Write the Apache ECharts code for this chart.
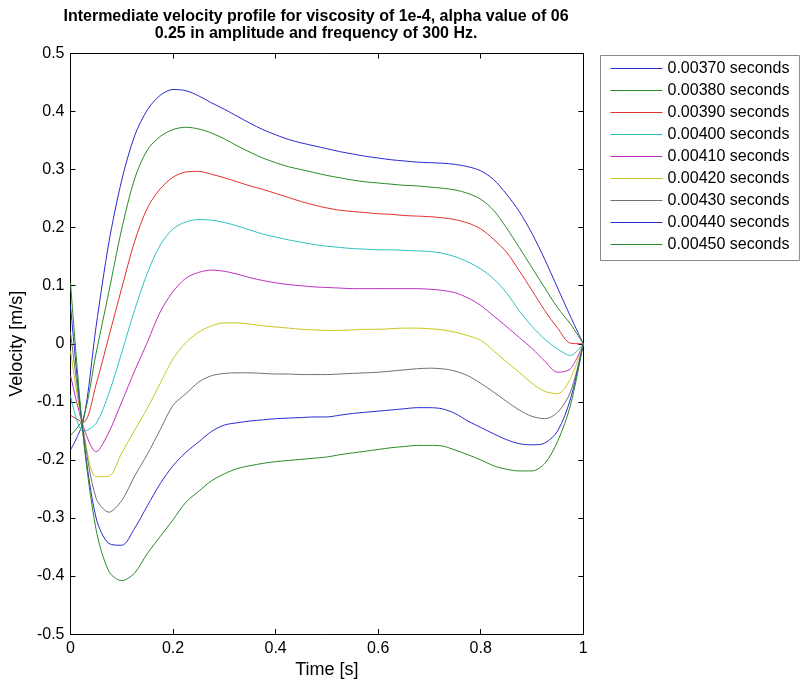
<!DOCTYPE html>
<html>
<head>
<meta charset="utf-8">
<script src="https://cdn.jsdelivr.net/npm/echarts@6/dist/echarts.min.js"></script>
<style>
html,body{margin:0;padding:0;background:#fff;}
#chart{width:802px;height:684px;}
</style>
</head>
<body>
<div id="chart"></div>
<script>
var xs = [0, 0.025, 0.05, 0.075, 0.1, 0.125, 0.15, 0.175, 0.2, 0.225, 0.25, 0.275, 0.3, 0.325, 0.35, 0.375, 0.4, 0.425, 0.45, 0.475, 0.5, 0.525, 0.55, 0.575, 0.6, 0.625, 0.65, 0.675, 0.7, 0.725, 0.75, 0.775, 0.8, 0.825, 0.85, 0.875, 0.9, 0.925, 0.95, 0.975, 1];

var seriesNames = ['0.00370 seconds', '0.00380 seconds', '0.00390 seconds', '0.00400 seconds', '0.00410 seconds', '0.00420 seconds', '0.00430 seconds', '0.00440 seconds', '0.00450 seconds'];

var v370 = [-0.183, -0.133, 0.03, 0.175, 0.282, 0.358, 0.403, 0.428, 0.438, 0.436, 0.427, 0.415, 0.404, 0.392, 0.38, 0.369, 0.36, 0.352, 0.346, 0.341, 0.336, 0.331, 0.327, 0.323, 0.320, 0.317, 0.315, 0.313, 0.312, 0.311, 0.309, 0.305, 0.298, 0.283, 0.258, 0.228, 0.19, 0.145, 0.096, 0.047, 0];
var v380 = [-0.158, -0.128, -0.016, 0.09, 0.198, 0.284, 0.334, 0.357, 0.369, 0.373, 0.37, 0.363, 0.353, 0.341, 0.33, 0.32, 0.312, 0.305, 0.3, 0.295, 0.29, 0.286, 0.282, 0.279, 0.277, 0.275, 0.273, 0.272, 0.27, 0.268, 0.265, 0.259, 0.249, 0.23, 0.2, 0.166, 0.131, 0.096, 0.062, 0.034, 0];
var v390 = [-0.123, -0.135, -0.07, 0.013, 0.096, 0.176, 0.234, 0.267, 0.287, 0.296, 0.297, 0.292, 0.286, 0.279, 0.272, 0.266, 0.259, 0.252, 0.245, 0.239, 0.234, 0.23, 0.228, 0.226, 0.224, 0.223, 0.221, 0.22, 0.219, 0.217, 0.214, 0.208, 0.198, 0.18, 0.158, 0.126, 0.092, 0.057, 0.027, 0.001, 0];
var v400 = [-0.089, -0.151, -0.137, -0.085, -0.015, 0.058, 0.122, 0.17, 0.198, 0.21, 0.214, 0.213, 0.209, 0.203, 0.196, 0.189, 0.184, 0.179, 0.175, 0.171, 0.168, 0.166, 0.164, 0.163, 0.162, 0.162, 0.161, 0.16, 0.159, 0.156, 0.15, 0.141, 0.129, 0.112, 0.088, 0.057, 0.03, 0.008, -0.009, -0.02, 0];
var v410 = [-0.054, -0.142, -0.186, -0.152, -0.1, -0.047, 0.003, 0.055, 0.09, 0.113, 0.123, 0.127, 0.125, 0.12, 0.114, 0.109, 0.105, 0.102, 0.1, 0.098, 0.097, 0.096, 0.095, 0.095, 0.095, 0.095, 0.095, 0.095, 0.094, 0.092, 0.088, 0.079, 0.066, 0.048, 0.03, 0.011, -0.008, -0.03, -0.049, -0.043, 0];
var v420 = [-0.012, -0.148, -0.229, -0.228, -0.188, -0.149, -0.111, -0.068, -0.026, 0.002, 0.02, 0.031, 0.036, 0.036, 0.034, 0.031, 0.029, 0.027, 0.025, 0.024, 0.023, 0.023, 0.024, 0.025, 0.025, 0.026, 0.027, 0.027, 0.026, 0.024, 0.02, 0.014, 0.006, -0.012, -0.031, -0.049, -0.068, -0.082, -0.086, -0.06, 0];
var v430 = [0.02, -0.15, -0.266, -0.29, -0.27, -0.228, -0.19, -0.148, -0.106, -0.086, -0.066, -0.055, -0.051, -0.05, -0.05, -0.051, -0.052, -0.052, -0.053, -0.053, -0.053, -0.052, -0.051, -0.05, -0.049, -0.047, -0.045, -0.043, -0.042, -0.043, -0.047, -0.055, -0.068, -0.083, -0.099, -0.114, -0.125, -0.129, -0.118, -0.083, 0];
var v440 = [0.066, -0.158, -0.3, -0.344, -0.347, -0.318, -0.279, -0.241, -0.21, -0.187, -0.169, -0.151, -0.14, -0.136, -0.133, -0.131, -0.129, -0.128, -0.127, -0.126, -0.126, -0.123, -0.12, -0.118, -0.116, -0.114, -0.112, -0.11, -0.11, -0.112, -0.12, -0.133, -0.144, -0.155, -0.165, -0.172, -0.174, -0.171, -0.15, -0.095, 0];
var v450 = [0.106, -0.16, -0.32, -0.392, -0.408, -0.395, -0.361, -0.332, -0.303, -0.273, -0.254, -0.236, -0.224, -0.215, -0.21, -0.206, -0.203, -0.201, -0.199, -0.197, -0.195, -0.191, -0.188, -0.185, -0.182, -0.179, -0.177, -0.175, -0.175, -0.176, -0.183, -0.191, -0.2, -0.21, -0.216, -0.219, -0.219, -0.206, -0.168, -0.106, 0];

var allValues = [v370, v380, v390, v400, v410, v420, v430, v440, v450];
var colors = ['#2a2ad0', '#2a8a2a', '#e03030', '#30c0c0', '#c030c0', '#c8c820', '#707070', '#2a2ad0', '#2a8a2a'];

var xTicks = {min: 0, max: 1, interval: 0.2};
var yTicks = {min: -0.5, max: 0.5, interval: 0.1};

var FONT = 'Liberation Sans, Arial, sans-serif';

var chart = echarts.init(document.getElementById('chart'), null, {renderer: 'canvas'});

var series = allValues.map(function (vals, i) {
  return {
    name: seriesNames[i],
    type: 'line',
    data: xs.map(function (x, j) { return [x, vals[j]]; }),
    symbol: 'none',
    smooth: 0.3,
    lineStyle: {width: 1, color: colors[i]},
    itemStyle: {color: colors[i]},
    xAxisIndex: 0,
    yAxisIndex: 0,
    animation: false
  };
});

var axisCommon = {
  axisLine: {show: true, onZero: false, lineStyle: {color: '#000', width: 1}},
  axisTick: {show: true, inside: true, length: 5, lineStyle: {color: '#000'}},
  splitLine: {show: false}
};

chart.setOption({
  animation: false,
  backgroundColor: '#fff',
  title: {
    text: 'Intermediate velocity profile for viscosity of 1e-4, alpha value of 06\n0.25 in amplitude and frequency of 300 Hz.',
    left: 311,
    top: 3,
    textAlign: 'center',
    textStyle: {fontFamily: FONT, fontSize: 16, fontWeight: 'bold', color: '#000', lineHeight: 17}
  },
  legend: {
    orient: 'vertical',
    left: 600.5,
    top: 55.5,
    padding: [5, 10, 8, 10],
    icon: 'path://M0,0H52V1H0Z',
    itemWidth: 52,
    itemHeight: 1,
    itemGap: 6,
    borderColor: '#888',
    borderWidth: 1,
    textStyle: {fontFamily: FONT, fontSize: 16, color: '#000', lineHeight: 16},
    data: seriesNames
  },
  grid: {left: 66.5, right: 218.7, top: 53.5, bottom: 48, containLabel: false},
  xAxis: [
    Object.assign({
      type: 'value', position: 'bottom',
      min: xTicks.min, max: xTicks.max, interval: xTicks.interval,
      name: 'Time [s]', nameLocation: 'middle', nameGap: 24,
      nameTextStyle: {fontFamily: FONT, fontSize: 18, color: '#000'},
      axisLabel: {fontFamily: FONT, fontSize: 16, color: '#000', margin: 6}
    }, axisCommon),
    Object.assign({
      type: 'value', position: 'top',
      min: xTicks.min, max: xTicks.max, interval: xTicks.interval,
      axisLabel: {show: false}
    }, axisCommon)
  ],
  yAxis: [
    Object.assign({
      type: 'value', position: 'left',
      min: yTicks.min, max: yTicks.max, interval: yTicks.interval,
      name: 'Velocity [m/s]', nameLocation: 'middle', nameGap: 40,
      nameTextStyle: {fontFamily: FONT, fontSize: 18, color: '#000'},
      axisLabel: {fontFamily: FONT, fontSize: 16, color: '#000', margin: 6}
    }, axisCommon),
    Object.assign({
      type: 'value', position: 'right',
      min: yTicks.min, max: yTicks.max, interval: yTicks.interval,
      axisLabel: {show: false}
    }, axisCommon)
  ],
  series: series
});
</script>
</body>
</html>
